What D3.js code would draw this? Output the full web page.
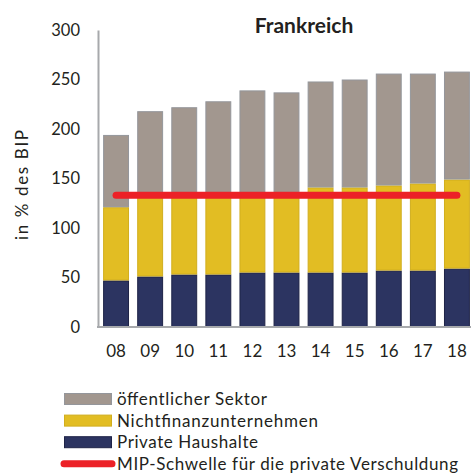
<!DOCTYPE html>
<html>
<head>
<meta charset="utf-8">
<script src="https://cdn.jsdelivr.net/npm/d3@7"></script>
<style>
  html, body { margin: 0; padding: 0; background: #fff; }
  svg { display: block; }
  text { font-family: Lato, "Open Sans", sans-serif; fill: #231f20; }
</style>
</head>
<body>
<svg id="chart" width="471" height="475"></svg>
<script>
// Debt of France by sector, in % of GDP
const years = ["08", "09", "10", "11", "12", "13", "14", "15", "16", "17", "18"];
const households = [47, 51, 53, 53, 55, 55, 55, 55, 57, 57, 59];
const corporates = [74, 81, 80, 80, 79, 79, 86, 86, 86, 88, 90];
const government = [73, 86, 89, 95, 105, 103, 107, 109, 113, 111, 109];
const mipThreshold = 133;
const yTicks = [0, 50, 100, 150, 200, 250, 300];

const seriesNames = ["Private Haushalte", "Nichtfinanzunternehmen", "öffentlicher Sektor"];
const seriesFill = ["#2c3461", "#e2bd23", "#a2978f"];
const seriesStroke = ["#1e2347", "#d1ae1e", "#94969b"];
const lineName = "MIP-Schwelle für die private Verschuldung";
const lineColor = "#ec2127";

const svg = d3.select("#chart");
const margin = { left: 98 };
const W = 471;

const x = d3.scaleBand()
  .domain(years)
  .range([margin.left, 475])
  .paddingInner(0.24)
  .paddingOuter(0.15);

const y = d3.scaleLinear()
  .domain([0, 300])
  .range([327, 30]);

// stacked table built from the series arrays
const table = years.map((yr, i) => ({
  year: yr,
  s0: households[i],
  s1: corporates[i],
  s2: government[i]
}));
const stack = d3.stack().keys(["s0", "s1", "s2"])(table);

const g = svg.append("g");
stack.forEach((layer, li) => {
  g.append("g")
    .selectAll("rect")
    .data(layer)
    .join("rect")
    .attr("x", d => x(d.data.year) + 0.5)
    .attr("width", x.bandwidth() - 1)
    .attr("y", d => y(d[1]) + 0.5)
    .attr("height", d => Math.max(0, y(d[0]) - y(d[1]) - 1))
    .attr("fill", seriesFill[li])
    .attr("stroke", seriesStroke[li])
    .attr("stroke-width", 1);
});

// MIP threshold line across the bars
svg.append("line")
  .attr("x1", x(years[0]) + x.bandwidth() / 2)
  .attr("x2", x(years[years.length - 1]) + x.bandwidth() / 2)
  .attr("y1", y(mipThreshold))
  .attr("y2", y(mipThreshold))
  .attr("stroke", lineColor)
  .attr("stroke-width", 7)
  .attr("stroke-linecap", "round");

// axes
const yAxis = svg.append("g")
  .attr("transform", `translate(${margin.left},0)`)
  .call(d3.axisLeft(y).tickValues(yTicks).tickSize(0).tickPadding(18));
yAxis.select(".domain").attr("stroke", "#a7a9ac").attr("stroke-width", 2);
yAxis.selectAll("text")
  .style("font-size", "16.5px")
  .style("font-family", "Lato, 'Open Sans', sans-serif")
  .attr("fill", "#231f20");

const xAxis = svg.append("g")
  .attr("transform", `translate(0,${y(0)})`)
  .call(d3.axisBottom(x).tickSize(0).tickPadding(18));
xAxis.select(".domain").attr("stroke", "#a7a9ac").attr("stroke-width", 2)
  .attr("d", `M${margin.left - 1},0H${W}`);
xAxis.selectAll("text")
  .style("font-size", "17px")
  .style("font-family", "Lato, 'Open Sans', sans-serif")
  .attr("fill", "#231f20");

// title
svg.append("text")
  .attr("x", 304)
  .attr("y", 33)
  .attr("text-anchor", "middle")
  .style("font-size", "21px")
  .style("font-weight", "bold")
  .text("Frankreich");

// y-axis title
svg.append("text")
  .attr("transform", "translate(28,185) rotate(-90)")
  .attr("text-anchor", "middle")
  .attr("textLength", 110)
  .attr("lengthAdjust", "spacing")
  .style("font-size", "17px")
  .text("in % des BIP");

// legend
const legendItems = [
  { name: seriesNames[2], fill: seriesFill[2], stroke: seriesStroke[2], type: "rect", len: 150 },
  { name: seriesNames[1], fill: seriesFill[1], stroke: seriesStroke[1], type: "rect", len: 201 },
  { name: seriesNames[0], fill: seriesFill[0], stroke: seriesStroke[0], type: "rect", len: 141 },
  { name: lineName, fill: lineColor, type: "line", len: 341 }
];
const legend = svg.append("g");
legendItems.forEach((it, i) => {
  const cy = 399 + i * 21.6;
  if (it.type === "rect") {
    legend.append("rect")
      .attr("x", 64.5).attr("y", cy - 5.5)
      .attr("width", 47).attr("height", 11)
      .attr("fill", it.fill).attr("stroke", it.stroke);
  } else {
    legend.append("line")
      .attr("x1", 64).attr("x2", 112)
      .attr("y1", cy).attr("y2", cy)
      .attr("stroke", it.fill).attr("stroke-width", 7)
      .attr("stroke-linecap", "round");
  }
  legend.append("text")
    .attr("x", 117)
    .attr("y", cy + 6)
    .attr("textLength", it.len)
    .attr("lengthAdjust", "spacing")
    .style("font-size", "17px")
    .text(it.name);
});
</script>
</body>
</html>
